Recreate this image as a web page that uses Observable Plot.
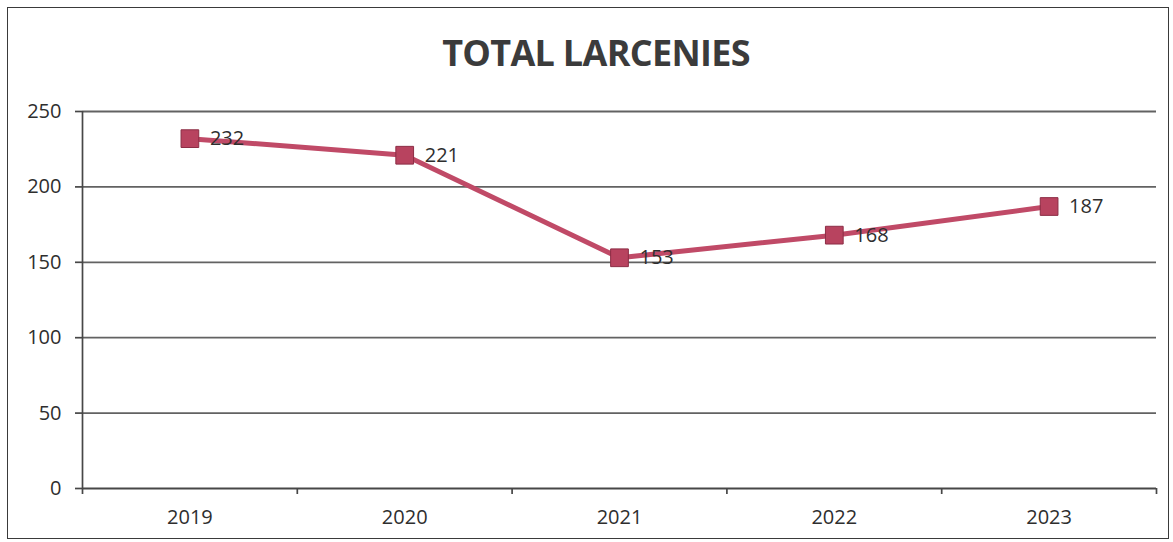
<!DOCTYPE html>
<html>
<head>
<meta charset="utf-8">
<script src="https://cdn.jsdelivr.net/npm/d3@7"></script>
<script src="https://cdn.jsdelivr.net/npm/@observablehq/plot@0.6"></script>
<style>
  html, body { margin: 0; padding: 0; background: #fff; }
  #wrap { position: relative; width: 1173px; height: 542px; overflow: hidden; font-family: "Open Sans", sans-serif; }
  #frame { position: absolute; left: 7px; top: 7px; width: 1162px; height: 532px; border: 1.5px solid #3a3a3a; box-sizing: border-box; pointer-events: none; }
  #title { position: absolute; left: 0; top: 0; width: 1173px; height: 90px; text-align: center; }
  #title span { position: absolute; left: 596px; top: 35px; transform: translateX(-50%); font-size: 36px; font-weight: 700; color: #3b3b3b; letter-spacing: -0.7px; white-space: nowrap; line-height: 1; }
  #chart { position: absolute; left: 0; top: 90px; }
</style>
</head>
<body>
<div id="wrap">
  <div id="title"><span>TOTAL LARCENIES</span></div>
  <div id="chart"></div>
  <div id="frame"></div>
</div>
<script>
const years = ["2019", "2020", "2021", "2022", "2023"];
const values = [232, 221, 153, 168, 187];
const yTicks = [0, 50, 100, 150, 200, 250];
const gridTicks = [50, 100, 150, 200, 250];

const data = years.map((year, i) => ({ year, i, pos: i + 0.5, value: values[i] }));
const bandEdges = d3.range(years.length + 1);
const bandCenters = data.map(d => d.pos);

const lineColor = "#c04a67";
const markerFill = "#b8435f";
const markerStroke = "#8c2d45";
const axisColor = "#474747";
const textColor = "#2e2e2e";

const chart = Plot.plot({
  width: 1173,
  height: 452,
  marginTop: 21,
  marginBottom: 54,
  marginLeft: 82,
  marginRight: 17,
  style: { fontFamily: "Open Sans, sans-serif", fontSize: "20px", color: textColor, background: "transparent", overflow: "visible" },
  x: { type: "linear", domain: [0, years.length] },
  y: { domain: [0, 250] },
  marks: [
    Plot.ruleY(gridTicks, { stroke: "#626262", strokeWidth: 1.8 }),
    Plot.ruleX([0], { stroke: axisColor, strokeWidth: 1.7 }),
    Plot.ruleY([0], { stroke: axisColor, strokeWidth: 1.8 }),
    Plot.axisY({ ticks: yTicks, tickSize: 7, tickPadding: 14, stroke: axisColor, strokeWidth: 1.7, fontSize: 20, label: null }),
    Plot.axisX({ ticks: bandEdges, tickSize: 6, tickFormat: () => "", stroke: axisColor, strokeWidth: 1.7, label: null }),
    Plot.axisX({ ticks: bandCenters, tickSize: 0, tickPadding: 21, tickFormat: v => years[Math.round(v - 0.5)], fontSize: 20, label: null }),
    Plot.line(data, { x: "pos", y: "value", stroke: lineColor, strokeWidth: 5, strokeLinejoin: "round" }),
    Plot.dot(data, { x: "pos", y: "value", symbol: "square", r: 10, fill: markerFill, stroke: markerStroke, strokeWidth: 1 }),
    Plot.text(data, { x: "pos", y: "value", text: d => String(d.value), dx: 20, textAnchor: "start", fontSize: 20, fill: textColor })
  ]
});
document.getElementById("chart").appendChild(chart);
</script>
</body>
</html>
